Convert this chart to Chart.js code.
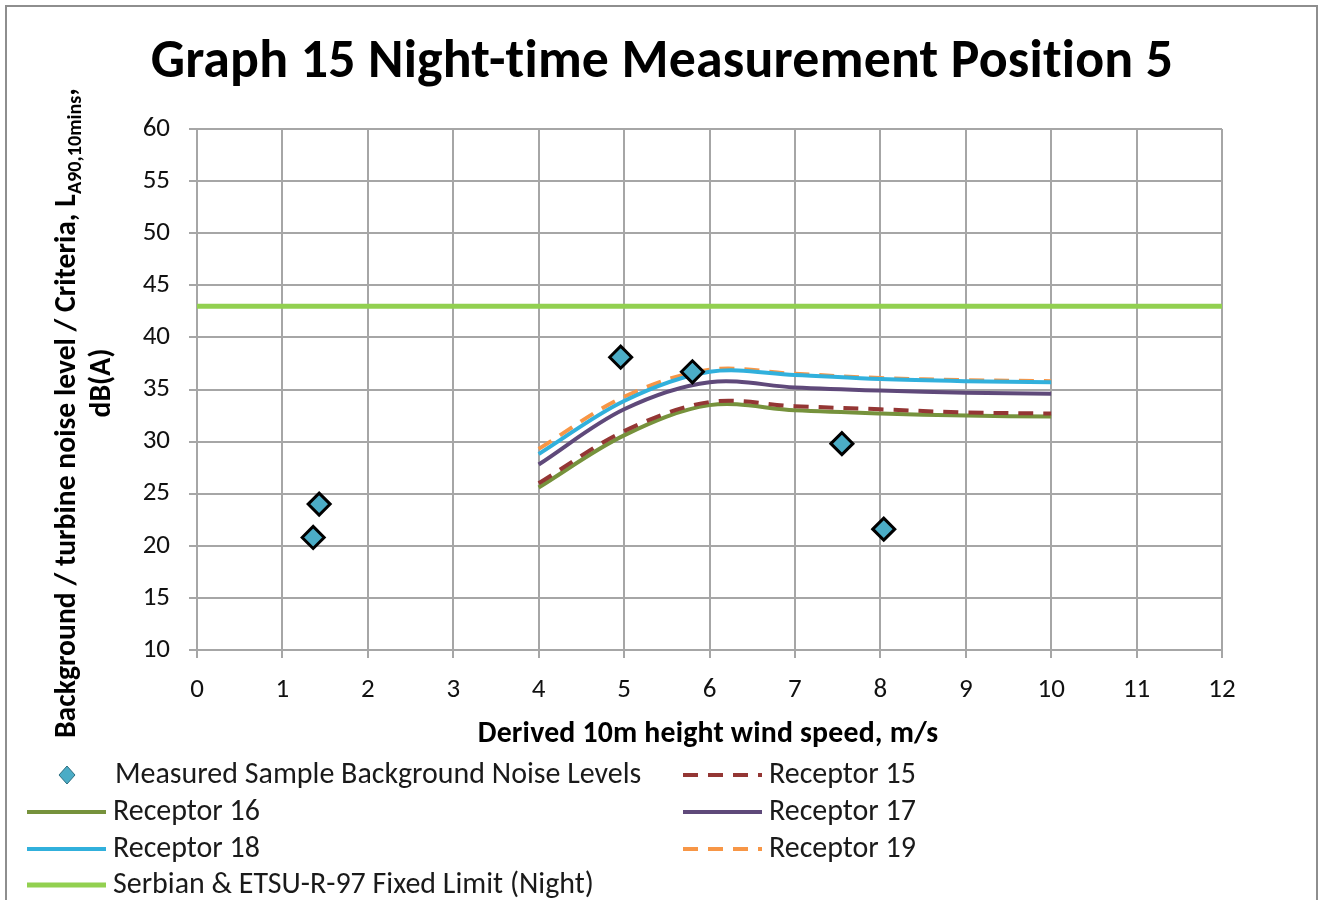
<!DOCTYPE html>
<html>
<head>
<meta charset="utf-8">
<script src="https://cdn.jsdelivr.net/npm/chart.js@4.4.1/dist/chart.umd.min.js"></script>
<style>
  html, body { margin: 0; padding: 0; background: #ffffff; }
  #wrap { position: relative; width: 1319px; height: 900px; }
</style>
</head>
<body>
<div id="wrap"><canvas id="c" width="1319" height="900"></canvas></div>
<script>
// Predicted turbine noise per receptor, by derived 10 m wind speed (m/s)
const windSpeeds = [4, 5, 6, 7, 8, 9, 10];
const receptor15 = [26.0, 31.0, 33.8, 33.4, 33.1, 32.8, 32.7];
const receptor16 = [25.6, 30.6, 33.5, 33.0, 32.7, 32.5, 32.4];
const receptor17 = [27.8, 33.1, 35.7, 35.2, 34.9, 34.7, 34.6];
const receptor18 = [28.8, 33.9, 36.7, 36.4, 36.0, 35.8, 35.7];
const receptor19 = [29.3, 34.3, 36.9, 36.5, 36.1, 35.9, 35.8];

// Measured background samples
const measuredWind = [1.36, 1.43, 4.96, 5.80, 7.55, 8.04];
const measuredLevel = [20.8, 24.0, 38.1, 36.7, 29.8, 21.6];

// Night-time fixed limit
const fixedLimitWind = [0, 12];
const fixedLimitLevel = [43, 43];

// Axis ranges and tick steps
const xRange = [0, 12], xStep = 1;
const yRange = [10, 60], yStep = 5;

const titleText = 'Graph 15 Night-time Measurement Position 5';
const xTitleText = 'Derived 10m height wind speed, m/s';
const yTitleMain = 'Background / turbine noise level / Criteria, L';
const yTitleSub = 'A90,10mins';
const yTitleTail = ',';
const yTitleLine2 = 'dB(A)';

const FAMILY = 'Carlito, Lato, "Liberation Sans", sans-serif';

const pts = (xs, ys) => xs.map((x, i) => ({ x: x, y: ys[i] }));

const datasets = [
  {
    label: 'Measured Sample Background Noise Levels',
    data: pts(measuredWind, measuredLevel),
    showLine: false,
    pointStyle: 'rectRot',
    pointRadius: 11,
    pointBorderWidth: 3,
    backgroundColor: '#4BACC6',
    borderColor: '#000000',
    legendKind: 'marker'
  },
  { label: 'Receptor 15', data: pts(windSpeeds, receptor15), borderColor: '#943634', borderDash: [15, 10], legendKind: 'line' },
  { label: 'Receptor 16', data: pts(windSpeeds, receptor16), borderColor: '#76923C', legendKind: 'line' },
  { label: 'Receptor 17', data: pts(windSpeeds, receptor17), borderColor: '#5F497A', legendKind: 'line' },
  { label: 'Receptor 18', data: pts(windSpeeds, receptor18), borderColor: '#31B0DC', legendKind: 'line' },
  { label: 'Receptor 19', data: pts(windSpeeds, receptor19), borderColor: '#F79646', borderDash: [15, 10], legendKind: 'line' },
  { label: 'Serbian & ETSU-R-97 Fixed Limit (Night)', data: pts(fixedLimitWind, fixedLimitLevel), borderColor: '#92D050', borderWidth: 5, tension: 0, legendKind: 'line' }
].map(d => Object.assign({
  showLine: true,
  borderWidth: 4,
  pointRadius: 0,
  tension: 0.34,
  fill: false
}, d));

// fit a font size so text spans a given width
function fitSize(ctx, text, weight, width) {
  ctx.font = weight + ' 100px ' + FAMILY;
  return 100 * width / ctx.measureText(text).width;
}

function setSpacing(ctx, v) {
  if ('letterSpacing' in ctx) ctx.letterSpacing = v;
}

const decorations = {
  id: 'decorations',
  afterDraw(chart) {
    const ctx = chart.ctx;
    ctx.save();

    // outer frame
    ctx.strokeStyle = '#8E8E8E';
    ctx.lineWidth = 2;
    ctx.strokeRect(6, 6, 1311, 900);

    ctx.fillStyle = '#000000';
    ctx.textBaseline = 'middle';
    // a tiny letter spacing keeps "t" and "i" as separate glyphs
    setSpacing(ctx, '0.2px');

    // title
    let s = fitSize(ctx, titleText, 'bold', 1019);
    ctx.font = 'bold ' + s + 'px ' + FAMILY;
    ctx.textAlign = 'center';
    ctx.fillText(titleText, 662, 64);

    // x axis title
    s = fitSize(ctx, xTitleText, 'bold', 456);
    ctx.font = 'bold ' + s + 'px ' + FAMILY;
    ctx.fillText(xTitleText, 708, 735);

    setSpacing(ctx, '0px');

    // y axis title (rotated, with subscript)
    ctx.save();
    ctx.translate(68, 0);
    ctx.rotate(-Math.PI / 2);
    const base = 22;
    ctx.font = 'bold ' + base + 'px ' + FAMILY;
    const wMain = ctx.measureText(yTitleMain).width;
    const wTail = ctx.measureText(yTitleTail).width;
    ctx.font = 'bold ' + (base * 0.68) + 'px ' + FAMILY;
    const wSub = ctx.measureText(yTitleSub).width;
    const total = wMain + wSub + wTail;
    const scale = 650 / total;
    const fs = base * scale;
    let pos = -413 - 650 / 2;
    ctx.textAlign = 'left';
    ctx.font = 'bold ' + fs + 'px ' + FAMILY;
    ctx.fillText(yTitleMain, pos, 0);
    pos += wMain * scale;
    ctx.font = 'bold ' + (fs * 0.68) + 'px ' + FAMILY;
    ctx.fillText(yTitleSub, pos, fs * 0.28);
    pos += wSub * scale;
    ctx.font = 'bold ' + fs + 'px ' + FAMILY;
    ctx.fillText(yTitleTail, pos, 0);
    ctx.textAlign = 'center';
    ctx.fillText(yTitleLine2, -383, 35);
    ctx.restore();

    // legend
    const slots = [
      { ds: 0, x: 115, y: 775 },
      { ds: 1, x: 769, y: 775 },
      { ds: 2, x: 113, y: 812 },
      { ds: 3, x: 769, y: 812 },
      { ds: 4, x: 113, y: 849 },
      { ds: 5, x: 769, y: 849 },
      { ds: 6, x: 113, y: 885 }
    ];
    const ls = fitSize(ctx, 'Receptor 15', 'normal', 147);
    ctx.textAlign = 'left';
    slots.forEach(sl => {
      const d = chart.data.datasets[sl.ds];
      if (d.legendKind === 'marker') {
        ctx.beginPath();
        ctx.moveTo(sl.x - 48, sl.y - 9);
        ctx.lineTo(sl.x - 40, sl.y);
        ctx.lineTo(sl.x - 48, sl.y + 9);
        ctx.lineTo(sl.x - 56, sl.y);
        ctx.closePath();
        ctx.fillStyle = d.backgroundColor;
        ctx.fill();
        ctx.strokeStyle = '#2C6E80';
        ctx.lineWidth = 1;
        ctx.stroke();
      } else {
        ctx.beginPath();
        ctx.setLineDash(d.borderDash || []);
        ctx.strokeStyle = d.borderColor;
        ctx.lineWidth = d.borderWidth;
        ctx.moveTo(sl.x - 86, sl.y);
        ctx.lineTo(sl.x - 7, sl.y);
        ctx.stroke();
        ctx.setLineDash([]);
      }
      ctx.fillStyle = '#1A1A1A';
      ctx.font = 'normal ' + ls + 'px ' + FAMILY;
      ctx.fillText(d.label, sl.x, sl.y + 1);
    });

    ctx.restore();
  }
};

new Chart(document.getElementById('c'), {
  type: 'scatter',
  data: { datasets: datasets },
  options: {
    responsive: false,
    animation: false,
    layout: { padding: { left: 0, top: 129, right: 97, bottom: 150 } },
    plugins: {
      legend: { display: false },
      title: { display: false },
      tooltip: { enabled: false }
    },
    scales: {
      x: {
        type: 'linear',
        min: xRange[0],
        max: xRange[1],
        ticks: {
          stepSize: xStep,
          padding: 16,
          color: '#111111',
          font: { family: FAMILY, size: 27 }
        },
        grid: { color: '#A6A6A6', lineWidth: 2, tickLength: 8, drawTicks: true },
        border: { color: '#A6A6A6', width: 2 },
        afterFit(scale) { scale.height = 100; }
      },
      y: {
        type: 'linear',
        min: yRange[0],
        max: yRange[1],
        ticks: {
          stepSize: yStep,
          padding: 19,
          color: '#111111',
          font: { family: FAMILY, size: 27 }
        },
        grid: { color: '#A6A6A6', lineWidth: 2, tickLength: 8, drawTicks: true },
        border: { color: '#A6A6A6', width: 2 },
        afterFit(scale) { scale.width = 197; }
      }
    }
  },
  plugins: [decorations]
});
</script>
</body>
</html>
